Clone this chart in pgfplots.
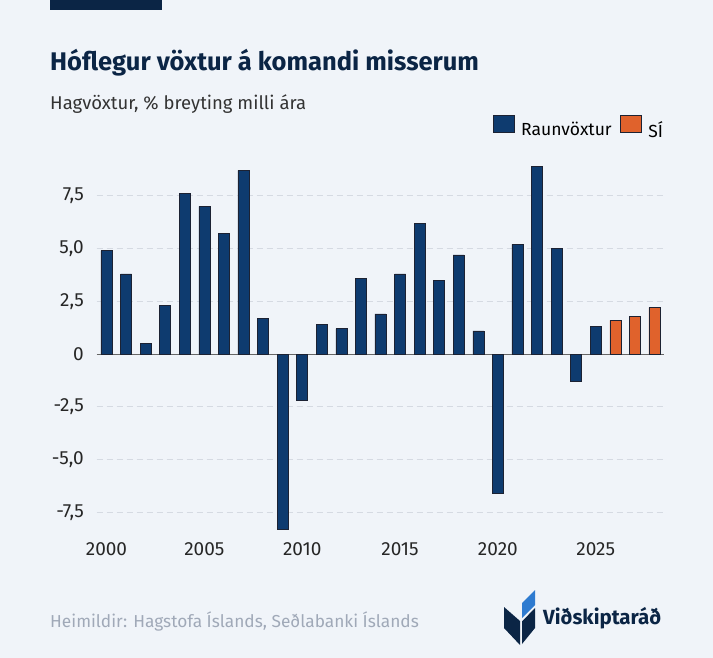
\documentclass[border=0pt]{standalone}
\usepackage{fontspec}
\setmainfont{Fira Sans}
\usepackage{pgfplots}
\pgfplotsset{compat=1.18}
\definecolor{bg}{HTML}{F0F4F9}
\definecolor{navy}{HTML}{0E3B6F}
\definecolor{orng}{HTML}{E0622C}
\definecolor{titlec}{HTML}{0B2545}
\definecolor{gridc}{HTML}{D5DAE2}
\definecolor{foot}{HTML}{A0A9B8}
\definecolor{logoblue}{HTML}{2E7BD0}
\definecolor{edgec}{HTML}{1C2233}
\begin{document}
\begin{tikzpicture}
\fill[bg] (0pt,0pt) rectangle (713pt,-658pt);
\fill[titlec] (50pt,0pt) rectangle (162pt,-10pt);
\node[anchor=base west, inner sep=0pt, font=\fontsize{25.5}{30}\selectfont\bfseries, text=titlec] at (50pt,-71pt) {Hóflegur vöxtur á komandi misserum};
\node[anchor=base west, inner sep=0pt, font=\fontsize{18.5}{22}\selectfont, text=black!80] at (50pt,-110pt) {Hagvöxtur, \% breyting milli ára};
\begin{axis}[
  at={(96.7pt,-535.5pt)}, anchor=south west,
  x=19.57pt, y=21.1pt,
  xmin=1999.5, xmax=2028.5, ymin=-8.6, ymax=9.3,
  axis line style={draw=none},
  tick style={draw=none}, major tick length=0pt,
  xtick={2000,2005,2010,2015,2020,2025},
  xticklabels={2000,2005,2010,2015,2020,2025},
  ytick={-7.5,-5,-2.5,2.5,5,7.5},
  yticklabels={{-7,5},{-5,0},{-2,5},{2,5},{5,0},{7,5}},
  extra y ticks={0},
  extra y tick labels={{0,0}},
  extra y tick style={major grid style={solid, draw=black!60, line width=0.9pt}},
  ymajorgrids,
  major grid style={draw=gridc, line width=0.8pt, dash pattern=on 6pt off 4pt},
  tick label style={font=\fontsize{19}{22}\selectfont, text=black!85},
  yticklabel style={anchor=east, inner sep=0pt, xshift=-12.7pt},
  xticklabel style={anchor=north, inner sep=0pt, yshift=-6.5pt},
  legend style={at={(1,1)}, anchor=east, xshift=-1pt, yshift=31.8pt, draw=none, fill=none,
    inner sep=0pt, font=\fontsize{17.5}{20}\selectfont, legend columns=2,
    /tikz/every odd column/.append style={column sep=7pt},
    /tikz/every even column/.append style={column sep=8pt},
    nodes={inner sep=0pt, text depth=0pt}},
  legend image code/.code={\draw[#1, draw=edgec, line width=0.6pt] (0pt,-3pt) rectangle (21pt,14pt);},
]
\addplot[ybar, bar width=11pt, bar shift=0pt, fill=navy, draw=edgec, line width=0.6pt] coordinates {
(2000,4.9) (2001,3.8) (2002,0.5) (2003,2.3) (2004,7.6) (2005,7.0) (2006,5.7) (2007,8.7)
(2008,1.7) (2009,-8.3) (2010,-2.2) (2011,1.4) (2012,1.2) (2013,3.6) (2014,1.9) (2015,3.8)
(2016,6.2) (2017,3.5) (2018,4.7) (2019,1.1) (2020,-6.6) (2021,5.2) (2022,8.9) (2023,5.0)
(2024,-1.3) (2025,1.3)};
\addlegendentry{Raunvöxtur}
\addplot[ybar, bar width=11pt, bar shift=0pt, fill=orng, draw=edgec, line width=0.6pt] coordinates {
(2026,1.6) (2027,1.8) (2028,2.2)};
\addlegendentry{SÍ}
\end{axis}
\node[anchor=base west, inner sep=0pt, font=\fontsize{17.3}{20}\selectfont, text=foot] at (50pt,-627pt) {Heimildir: Hagstofa Íslands, Seðlabanki Íslands};
% logo
\fill[titlec] (504pt,-607pt) -- (520pt,-621pt) -- (520pt,-645pt) -- (504pt,-628pt) -- cycle;
\fill[titlec] (522pt,-621.5pt) -- (535pt,-608pt) -- (535pt,-628pt) -- (522pt,-644pt) -- cycle;
\fill[logoblue] (522pt,-618pt) -- (522pt,-603pt) -- (535pt,-590pt) -- (535pt,-605pt) -- cycle;
\node[anchor=base west, inner sep=0pt, font=\fontsize{20.5}{24}\selectfont\bfseries, text=titlec] at (543pt,-624pt) {Viðskiptaráð};
\end{tikzpicture}
\end{document}
